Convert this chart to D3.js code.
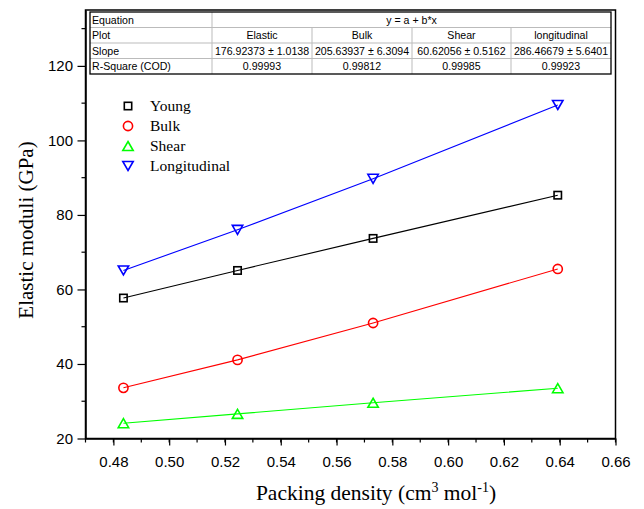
<!DOCTYPE html>
<html><head><meta charset="utf-8">
<script src="https://cdn.jsdelivr.net/npm/d3@7"></script>
<style>body{margin:0;background:#fff}</style></head>
<body><svg id="c" width="644" height="509"></svg>
<script>
// ---- data ----
const xValues = [0.4836, 0.5245, 0.5731, 0.6393];
const young = [57.7, 65.1, 73.7, 85.3];
const bulk = [33.6, 41.1, 51.0, 65.5];
const shear = [24.1, 26.6, 29.6, 33.5];
const longitudinal = [65.1, 76.0, 89.7, 109.5];
const seriesNames = ["Young", "Bulk", "Shear", "Longitudinal"];
const seriesColors = ["#000000", "#ff0000", "#00ff00", "#0000ff"];
const seriesSymbols = ["square", "circle", "triUp", "triDown"];
const xTicks = [0.48, 0.50, 0.52, 0.54, 0.56, 0.58, 0.60, 0.62, 0.64, 0.66];
const yTicks = [20, 40, 60, 80, 100, 120];
const tableRowLabels = ["Equation", "Plot", "Slope", "R-Square (COD)"];
const tableEquation = "y = a + b*x";
const tablePlots = ["Elastic", "Bulk", "Shear", "longitudinal"];
const tableSlopes = ["176.92373 ± 1.0138", "205.63937 ± 6.3094", "60.62056 ± 0.5162", "286.46679 ± 5.6401"];
const tableR2 = ["0.99993", "0.99812", "0.99985", "0.99923"];

const allSeries = [young, bulk, shear, longitudinal];

// ---- layout ----
const svg = d3.select("#c");
const L = 85.5, R = 615.5, T = 10, B = 438.5;
const x = d3.scaleLinear().domain([0.47, 0.66]).range([L, R]);
const y = d3.scaleLinear().domain([20, 135]).range([B, T]);

// frame
svg.append("rect").attr("x", L).attr("y", T).attr("width", R - L).attr("height", B - T)
  .attr("fill", "none").attr("stroke", "#000").attr("stroke-width", 1.5);

// x axis
const xAxis = d3.axisBottom(x).tickValues(xTicks).tickFormat(d3.format(".2f")).tickSize(7).tickSizeOuter(0);
const gx = svg.append("g").attr("transform", `translate(0,${B})`).call(xAxis);
const xMinor = d3.range(0.47, 0.6601, 0.01);
svg.append("g").selectAll("line").data(xMinor).join("line")
  .attr("x1", d => x(d)).attr("x2", d => x(d)).attr("y1", B).attr("y2", B + 4)
  .attr("stroke", "#000").attr("stroke-width", 1.2);

// y axis
const yAxis = d3.axisLeft(y).tickValues(yTicks).tickSize(8).tickSizeOuter(0);
const gy = svg.append("g").attr("transform", `translate(${L},0)`).call(yAxis);
const yMinor = d3.range(30, 131, 20);
svg.append("g").selectAll("line").data(yMinor).join("line")
  .attr("x1", L - 4).attr("x2", L).attr("y1", d => y(d)).attr("y2", d => y(d))
  .attr("stroke", "#000").attr("stroke-width", 1.2);

[gx, gy].forEach(g => {
  g.select(".domain").attr("stroke-width", 1.5);
  g.selectAll(".tick line").attr("stroke-width", 1.2);
  g.selectAll(".tick text").attr("font-family", "Liberation Sans, Arial, sans-serif")
    .attr("font-size", 15).attr("fill", "#000");
});
gx.selectAll(".tick text").attr("dy", "1.2em");
gy.selectAll(".tick text").attr("dx", "-0.1em");

// axis titles
svg.append("text").attr("x", 376).attr("y", 500).attr("text-anchor", "middle")
  .attr("font-family", "Liberation Serif, Times New Roman, serif").attr("font-size", 21.5)
  .html('Packing density (cm<tspan dy="-8" font-size="14">3</tspan><tspan dy="8"> mol</tspan><tspan dy="-8" font-size="14">-1</tspan><tspan dy="8">)</tspan>');
svg.append("text").attr("transform", "translate(33,230) rotate(-90)").attr("text-anchor", "middle")
  .attr("font-family", "Liberation Serif, Times New Roman, serif").attr("font-size", 21)
  .text("Elastic moduli (GPa)");

// marker function
function marker(g, type, cx, cy, color) {
  if (type === "square") {
    g.append("rect").attr("x", cx - 3.7).attr("y", cy - 3.7).attr("width", 7.4).attr("height", 7.4)
      .attr("fill", "none").attr("stroke", color).attr("stroke-width", 1.6);
  } else if (type === "circle") {
    g.append("circle").attr("cx", cx).attr("cy", cy).attr("r", 4.6)
      .attr("fill", "none").attr("stroke", color).attr("stroke-width", 1.6);
  } else if (type === "triUp") {
    const s = 5.2, h = 4.5;
    g.append("path").attr("d", `M${cx},${cy - h}L${cx + s},${cy + h}L${cx - s},${cy + h}Z`)
      .attr("fill", "none").attr("stroke", color).attr("stroke-width", 1.6);
  } else {
    const s = 5.2, h = 4.5;
    g.append("path").attr("d", `M${cx},${cy + h}L${cx + s},${cy - h}L${cx - s},${cy - h}Z`)
      .attr("fill", "none").attr("stroke", color).attr("stroke-width", 1.6);
  }
}

// lines & points
const line = d3.line().x(d => x(d[0])).y(d => y(d[1]));
allSeries.forEach((vals, i) => {
  const pts = xValues.map((xv, j) => [xv, vals[j]]);
  svg.append("path").attr("d", line(pts)).attr("fill", "none")
    .attr("stroke", seriesColors[i]).attr("stroke-width", 1.1);
  const g = svg.append("g");
  pts.forEach(p => marker(g, seriesSymbols[i], x(p[0]), y(p[1]), seriesColors[i]));
});

// legend
const lg = svg.append("g");
seriesNames.forEach((n, i) => {
  const ly = 106 + i * 20;
  marker(lg, seriesSymbols[i], 128, ly, seriesColors[i]);
  lg.append("text").attr("x", 150).attr("y", ly + 5)
    .attr("font-family", "Liberation Serif, Times New Roman, serif").attr("font-size", 15.5)
    .text(n);
});

// table
const tL = 90, tT = 12, rowH = 15.5;
const colX = [90, 212, 312, 412, 511, 611];
const tg = svg.append("g");
tg.append("rect").attr("x", tL).attr("y", tT).attr("width", colX[5] - tL).attr("height", rowH * 4)
  .attr("fill", "#fff").attr("stroke", "none");
for (let r = 1; r < 4; r++) {
  tg.append("line").attr("x1", tL).attr("x2", colX[5]).attr("y1", tT + r * rowH).attr("y2", tT + r * rowH)
    .attr("stroke", "#bbb").attr("stroke-width", 1);
}
tg.append("line").attr("x1", colX[1]).attr("x2", colX[1]).attr("y1", tT).attr("y2", tT + 4 * rowH)
  .attr("stroke", "#bbb");
for (let c = 2; c < 5; c++) {
  tg.append("line").attr("x1", colX[c]).attr("x2", colX[c]).attr("y1", tT + rowH).attr("y2", tT + 4 * rowH)
    .attr("stroke", "#bbb");
}
tg.append("rect").attr("x", tL).attr("y", tT).attr("width", colX[5] - tL).attr("height", rowH * 4)
  .attr("fill", "none").attr("stroke", "#000").attr("stroke-width", 1.3);
const tf = "Liberation Sans, Arial, sans-serif", tfs = 10.6;
tableRowLabels.forEach((t, r) => {
  tg.append("text").attr("x", tL + 2).attr("y", tT + r * rowH + 11.8).attr("font-family", tf)
    .attr("font-size", tfs).text(t);
});
tg.append("text").attr("x", (colX[1] + colX[5]) / 2).attr("y", tT + 11.8).attr("text-anchor", "middle")
  .attr("font-family", tf).attr("font-size", tfs).text(tableEquation);
[tablePlots, tableSlopes, tableR2].forEach((arr, r) => {
  arr.forEach((t, c) => {
    tg.append("text").attr("x", (colX[c + 1] + colX[c + 2]) / 2).attr("y", tT + (r + 1) * rowH + 11.8)
      .attr("text-anchor", "middle").attr("font-family", tf).attr("font-size", tfs).text(t);
  });
});
</script></body></html>
